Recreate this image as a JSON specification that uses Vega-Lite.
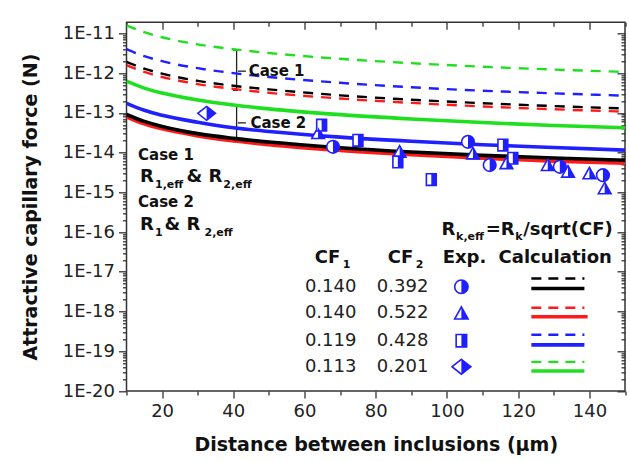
{
  "$schema": "https://vega.github.io/schema/vega-lite/v6.json",
  "width": 498.5,
  "height": 368.7,
  "autosize": {"type": "none"},
  "padding": {"left": 126.5, "top": 22.3, "right": 5, "bottom": 71},
  "background": "white",
  "config": {
    "view": {"stroke": "#333333", "strokeWidth": 1.5},
    "font": "DejaVu Sans",
    "axis": {"domain": false, "grid": false, "tickColor": "#333333", "tickWidth": 1.3, "labelFont": "DejaVu Sans", "labelFontSize": 18, "labelColor": "#222222", "titleFont": "DejaVu Sans", "titleFontSize": 19, "titleFontWeight": "bold", "titleColor": "#111111", "labelOverlap": false, "labelFlush": false}
  },
  "datasets": {
    "curves": [
      {"col": "r", "kind": "dash", "x": 10, "y": 1.6e-12}, {"col": "r", "kind": "dash", "x": 15, "y": 1.07e-12}, {"col": "r", "kind": "dash", "x": 20, "y": 8.0e-13}, {"col": "r", "kind": "dash", "x": 30, "y": 5.3e-13}, {"col": "r", "kind": "dash", "x": 40, "y": 4.0e-13}, {"col": "r", "kind": "dash", "x": 50, "y": 3.2e-13}, {"col": "r", "kind": "dash", "x": 70, "y": 2.29e-13}, {"col": "r", "kind": "dash", "x": 90, "y": 1.78e-13}, {"col": "r", "kind": "dash", "x": 110, "y": 1.45e-13}, {"col": "r", "kind": "dash", "x": 130, "y": 1.23e-13}, {"col": "r", "kind": "dash", "x": 150, "y": 1.07e-13},
      {"col": "k", "kind": "dash", "x": 10, "y": 1.93e-12}, {"col": "k", "kind": "dash", "x": 15, "y": 1.29e-12}, {"col": "k", "kind": "dash", "x": 20, "y": 9.7e-13}, {"col": "k", "kind": "dash", "x": 30, "y": 6.4e-13}, {"col": "k", "kind": "dash", "x": 40, "y": 4.8e-13}, {"col": "k", "kind": "dash", "x": 50, "y": 3.9e-13}, {"col": "k", "kind": "dash", "x": 70, "y": 2.76e-13}, {"col": "k", "kind": "dash", "x": 90, "y": 2.14e-13}, {"col": "k", "kind": "dash", "x": 110, "y": 1.75e-13}, {"col": "k", "kind": "dash", "x": 130, "y": 1.48e-13}, {"col": "k", "kind": "dash", "x": 150, "y": 1.29e-13},
      {"col": "b", "kind": "dash", "x": 10, "y": 4.0e-12}, {"col": "b", "kind": "dash", "x": 15, "y": 2.67e-12}, {"col": "b", "kind": "dash", "x": 20, "y": 2.0e-12}, {"col": "b", "kind": "dash", "x": 30, "y": 1.33e-12}, {"col": "b", "kind": "dash", "x": 40, "y": 1.0e-12}, {"col": "b", "kind": "dash", "x": 50, "y": 8.0e-13}, {"col": "b", "kind": "dash", "x": 70, "y": 5.7e-13}, {"col": "b", "kind": "dash", "x": 90, "y": 4.4e-13}, {"col": "b", "kind": "dash", "x": 110, "y": 3.6e-13}, {"col": "b", "kind": "dash", "x": 130, "y": 3.1e-13}, {"col": "b", "kind": "dash", "x": 150, "y": 2.7e-13},
      {"col": "g", "kind": "dash", "x": 10, "y": 1.6e-11}, {"col": "g", "kind": "dash", "x": 15, "y": 1.07e-11}, {"col": "g", "kind": "dash", "x": 20, "y": 8.0e-12}, {"col": "g", "kind": "dash", "x": 30, "y": 5.3e-12}, {"col": "g", "kind": "dash", "x": 40, "y": 4.0e-12}, {"col": "g", "kind": "dash", "x": 50, "y": 3.2e-12}, {"col": "g", "kind": "dash", "x": 70, "y": 2.29e-12}, {"col": "g", "kind": "dash", "x": 90, "y": 1.78e-12}, {"col": "g", "kind": "dash", "x": 110, "y": 1.45e-12}, {"col": "g", "kind": "dash", "x": 130, "y": 1.23e-12}, {"col": "g", "kind": "dash", "x": 150, "y": 1.07e-12},
      {"col": "r", "kind": "solid", "x": 10, "y": 7.9e-14}, {"col": "r", "kind": "solid", "x": 15, "y": 5.3e-14}, {"col": "r", "kind": "solid", "x": 20, "y": 3.95e-14}, {"col": "r", "kind": "solid", "x": 30, "y": 2.63e-14}, {"col": "r", "kind": "solid", "x": 40, "y": 1.98e-14}, {"col": "r", "kind": "solid", "x": 50, "y": 1.58e-14}, {"col": "r", "kind": "solid", "x": 70, "y": 1.13e-14}, {"col": "r", "kind": "solid", "x": 90, "y": 8.8e-15}, {"col": "r", "kind": "solid", "x": 110, "y": 7.2e-15}, {"col": "r", "kind": "solid", "x": 130, "y": 6.1e-15}, {"col": "r", "kind": "solid", "x": 150, "y": 5.4e-15},
      {"col": "k", "kind": "solid", "x": 10, "y": 9.1e-14}, {"col": "k", "kind": "solid", "x": 15, "y": 6.1e-14}, {"col": "k", "kind": "solid", "x": 20, "y": 4.55e-14}, {"col": "k", "kind": "solid", "x": 30, "y": 3.0e-14}, {"col": "k", "kind": "solid", "x": 40, "y": 2.28e-14}, {"col": "k", "kind": "solid", "x": 50, "y": 1.84e-14}, {"col": "k", "kind": "solid", "x": 70, "y": 1.32e-14}, {"col": "k", "kind": "solid", "x": 90, "y": 1.03e-14}, {"col": "k", "kind": "solid", "x": 110, "y": 8.5e-15}, {"col": "k", "kind": "solid", "x": 130, "y": 7.3e-15}, {"col": "k", "kind": "solid", "x": 150, "y": 6.4e-15},
      {"col": "b", "kind": "solid", "x": 10, "y": 1.74e-13}, {"col": "b", "kind": "solid", "x": 15, "y": 1.16e-13}, {"col": "b", "kind": "solid", "x": 20, "y": 8.7e-14}, {"col": "b", "kind": "solid", "x": 30, "y": 5.8e-14}, {"col": "b", "kind": "solid", "x": 40, "y": 4.2e-14}, {"col": "b", "kind": "solid", "x": 50, "y": 3.4e-14}, {"col": "b", "kind": "solid", "x": 70, "y": 2.45e-14}, {"col": "b", "kind": "solid", "x": 90, "y": 1.92e-14}, {"col": "b", "kind": "solid", "x": 110, "y": 1.58e-14}, {"col": "b", "kind": "solid", "x": 130, "y": 1.34e-14}, {"col": "b", "kind": "solid", "x": 150, "y": 1.15e-14},
      {"col": "g", "kind": "solid", "x": 10, "y": 6.3e-13}, {"col": "g", "kind": "solid", "x": 15, "y": 4.2e-13}, {"col": "g", "kind": "solid", "x": 20, "y": 3.15e-13}, {"col": "g", "kind": "solid", "x": 30, "y": 2.1e-13}, {"col": "g", "kind": "solid", "x": 40, "y": 1.58e-13}, {"col": "g", "kind": "solid", "x": 50, "y": 1.26e-13}, {"col": "g", "kind": "solid", "x": 70, "y": 9.0e-14}, {"col": "g", "kind": "solid", "x": 90, "y": 7.0e-14}, {"col": "g", "kind": "solid", "x": 110, "y": 5.7e-14}, {"col": "g", "kind": "solid", "x": 130, "y": 4.8e-14}, {"col": "g", "kind": "solid", "x": 150, "y": 4.2e-14}
    ],
    "measured": [
      {"mk": "circle", "x": 68.0, "y": 1.40e-14}, {"mk": "circle", "x": 105.9, "y": 1.87e-14}, {"mk": "circle", "x": 112.0, "y": 4.85e-15}, {"mk": "circle", "x": 131.7, "y": 4.4e-15}, {"mk": "circle", "x": 143.8, "y": 2.7e-15},
      {"mk": "triangle", "x": 63.8, "y": 3.1e-14}, {"mk": "triangle", "x": 86.7, "y": 1.05e-14}, {"mk": "triangle", "x": 107.3, "y": 9.5e-15}, {"mk": "triangle", "x": 116.7, "y": 5.4e-15}, {"mk": "triangle", "x": 128.3, "y": 4.85e-15}, {"mk": "triangle", "x": 134.0, "y": 3.3e-15}, {"mk": "triangle", "x": 140.0, "y": 3.0e-15}, {"mk": "triangle", "x": 144.3, "y": 1.26e-15},
      {"mk": "square", "x": 64.8, "y": 4.9e-14}, {"mk": "square", "x": 75.0, "y": 2.04e-14}, {"mk": "square", "x": 86.2, "y": 5.8e-15}, {"mk": "square", "x": 95.6, "y": 2.1e-15}, {"mk": "square", "x": 115.7, "y": 1.55e-14}, {"mk": "square", "x": 118.5, "y": 7.2e-15},
      {"mk": "diamond", "x": 32.5, "y": 9.7e-14}
    ],
    "keyMarks": [
      {"mk": "circle", "x": 104.05, "y": 4.21e-18},
      {"mk": "triangle", "x": 104.05, "y": 9.0e-19},
      {"mk": "square", "x": 104.05, "y": 1.84e-19},
      {"mk": "diamond", "x": 104.05, "y": 4.08e-20}
    ],
    "keyLines": [
      {"col": "k", "kind": "dash", "x": 123.7, "x2": 138.6, "y": 6.8e-18}, {"col": "k", "kind": "solid", "x": 123.7, "x2": 138.6, "y": 3.8e-18},
      {"col": "r", "kind": "dash", "x": 123.7, "x2": 138.6, "y": 1.24e-18}, {"col": "r", "kind": "solid", "x": 123.7, "x2": 139.5, "y": 7.4e-19},
      {"col": "b", "kind": "dash", "x": 123.7, "x2": 138.6, "y": 2.6e-19}, {"col": "b", "kind": "solid", "x": 123.7, "x2": 138.6, "y": 1.45e-19},
      {"col": "g", "kind": "dash", "x": 123.7, "x2": 138.6, "y": 5.4e-20}, {"col": "g", "kind": "solid", "x": 123.7, "x2": 138.6, "y": 3.2e-20}
    ],
    "brackets": [
      {"x": 40.92, "x2": 40.92, "y": 3.8e-12, "y2": 3.7e-13},
      {"x": 39.88, "x2": 41.3, "y": 3.8e-12, "y2": 3.8e-12},
      {"x": 39.88, "x2": 41.3, "y": 3.7e-13, "y2": 3.7e-13},
      {"x": 41.28, "x2": 43.53, "y": 1.12e-12, "y2": 1.12e-12},
      {"x": 40.92, "x2": 40.92, "y": 1.57e-13, "y2": 1.87e-14},
      {"x": 39.88, "x2": 41.3, "y": 1.57e-13, "y2": 1.57e-13},
      {"x": 39.88, "x2": 41.3, "y": 1.87e-14, "y2": 1.87e-14},
      {"x": 41.28, "x2": 43.53, "y": 5.6e-14, "y2": 5.6e-14}
    ],
    "boldText": [
      {"role": "case", "text": "Case 1", "x": 44.3, "y": 1.12e-12},
      {"role": "case", "text": "Case 2", "x": 44.8, "y": 5.6e-14},
      {"role": "case", "text": "Case 1", "x": 13.23, "y": 8.6e-15},
      {"role": "main", "text": "R", "x": 13.79, "y": 2.42e-15},
      {"role": "sub", "text": "1,eff", "x": 18.0, "y": 1.52e-15},
      {"role": "main", "text": "& R", "x": 26.84, "y": 2.42e-15},
      {"role": "sub", "text": "2,eff", "x": 37.2, "y": 1.52e-15},
      {"role": "case", "text": "Case 2", "x": 13.23, "y": 5.78e-16},
      {"role": "main", "text": "R", "x": 13.79, "y": 1.5e-16},
      {"role": "sub", "text": "1", "x": 18.0, "y": 9.4e-17},
      {"role": "main", "text": "& R", "x": 20.66, "y": 1.5e-16},
      {"role": "sub", "text": "2,eff", "x": 31.9, "y": 9.4e-17},
      {"role": "main", "text": "R", "x": 98.44, "y": 1.12e-16},
      {"role": "sub", "text": "k,eff", "x": 102.56, "y": 7.48e-17},
      {"role": "main", "text": "=R", "x": 110.87, "y": 1.12e-16},
      {"role": "sub", "text": "k", "x": 119.15, "y": 7.48e-17},
      {"role": "main", "text": "/sqrt(CF)", "x": 121.39, "y": 1.12e-16},
      {"role": "head", "text": "CF", "x": 62.89, "y": 2.22e-17},
      {"role": "sub", "text": "1", "x": 70.75, "y": 1.48e-17},
      {"role": "head", "text": "CF", "x": 83.37, "y": 2.22e-17},
      {"role": "sub", "text": "2", "x": 91.23, "y": 1.48e-17},
      {"role": "head", "text": "Exp.", "x": 98.8, "y": 2.22e-17},
      {"role": "head", "text": "Calculation", "x": 114.5, "y": 2.22e-17}
    ],
    "plainText": [
      {"text": "0.140", "x": 60.1, "y": 4.21e-18}, {"text": "0.392", "x": 80.3, "y": 4.21e-18},
      {"text": "0.140", "x": 60.1, "y": 9.0e-19}, {"text": "0.522", "x": 80.3, "y": 9.0e-19},
      {"text": "0.119", "x": 60.1, "y": 1.84e-19}, {"text": "0.428", "x": 80.3, "y": 1.84e-19},
      {"text": "0.113", "x": 60.1, "y": 4.08e-20}, {"text": "0.201", "x": 80.3, "y": 4.08e-20}
    ]
  },
  "encoding": {
    "x": {"field": "x", "type": "quantitative", "scale": {"domain": [10, 150], "nice": false, "zero": false}, "axis": null},
    "y": {"field": "y", "type": "quantitative", "scale": {"type": "log", "domain": [1e-20, 1.9e-11], "nice": false}, "axis": null}
  },
  "resolve": {"axis": {"x": "independent", "y": "independent"}, "scale": {"shape": "independent"}},
  "layer": [
    {
      "data": {"name": "brackets"},
      "mark": {"type": "rule", "color": "#222222", "strokeWidth": 1.3},
      "encoding": {
        "x": {"field": "x", "type": "quantitative", "scale": {"domain": [10, 150], "nice": false, "zero": false},
          "axis": {"orient": "top", "title": null, "labels": false, "values": [10, 20, 30, 40, 50, 60, 70, 80, 90, 100, 110, 120, 130, 140, 150],
            "tickSize": {"condition": {"test": "datum.value % 20 == 0", "value": -7}, "value": -4}}},
        "y": {"field": "y", "type": "quantitative", "scale": {"type": "log", "domain": [1e-20, 1.9e-11], "nice": false},
          "axis": {"orient": "right", "title": null, "labels": false,
            "values": [1e-20, 2e-20, 3e-20, 4e-20, 5e-20, 6e-20, 7e-20, 8e-20, 9e-20, 1e-19, 2e-19, 3e-19, 4e-19, 5e-19, 6e-19, 7e-19, 8e-19, 9e-19, 1e-18, 2e-18, 3e-18, 4e-18, 5e-18, 6e-18, 7e-18, 8e-18, 9e-18, 1e-17, 2e-17, 3e-17, 4e-17, 5e-17, 6e-17, 7e-17, 8e-17, 9e-17, 1e-16, 2e-16, 3e-16, 4e-16, 5e-16, 6e-16, 7e-16, 8e-16, 9e-16, 1e-15, 2e-15, 3e-15, 4e-15, 5e-15, 6e-15, 7e-15, 8e-15, 9e-15, 1e-14, 2e-14, 3e-14, 4e-14, 5e-14, 6e-14, 7e-14, 8e-14, 9e-14, 1e-13, 2e-13, 3e-13, 4e-13, 5e-13, 6e-13, 7e-13, 8e-13, 9e-13, 1e-12, 2e-12, 3e-12, 4e-12, 5e-12, 6e-12, 7e-12, 8e-12, 9e-12, 1e-11],
            "tickSize": {"condition": {"test": "abs(log(datum.value)/LN10 - round(log(datum.value)/LN10)) < 0.001", "value": -8}, "value": -4}}},
        "x2": {"field": "x2"},
        "y2": {"field": "y2"}
      }
    },
    {
      "data": {"name": "curves"},
      "transform": [{"filter": "datum.kind == 'dash'"}],
      "mark": {"type": "line", "strokeWidth": 2.4, "strokeDash": [10, 8], "interpolate": "monotone", "clip": true},
      "encoding": {
        "color": {"field": "col", "type": "nominal", "scale": {"domain": ["k", "r", "b", "g"], "range": ["#000000", "#ff1a1a", "#1f1fff", "#1ee01e"]}, "legend": null},
        "order": {"field": "x", "type": "quantitative"}
      }
    },
    {
      "data": {"name": "curves"},
      "transform": [{"filter": "datum.kind == 'solid'"}],
      "mark": {"type": "line", "strokeWidth": 3.6, "interpolate": "monotone", "clip": true},
      "encoding": {
        "x": {"field": "x", "type": "quantitative", "scale": {"domain": [10, 150], "nice": false, "zero": false},
          "axis": {"orient": "bottom", "title": "Distance between inclusions (\u03bcm)", "titlePadding": 15, "labelPadding": 4,
            "values": [10, 20, 30, 40, 50, 60, 70, 80, 90, 100, 110, 120, 130, 140, 150],
            "labelExpr": "datum.value % 20 == 0 && datum.value < 150 ? datum.label : ''",
            "tickSize": {"condition": {"test": "datum.value % 20 == 0", "value": 7}, "value": 4}}},
        "y": {"field": "y", "type": "quantitative", "scale": {"type": "log", "domain": [1e-20, 1.9e-11], "nice": false},
          "axis": {"orient": "left", "title": "Attractive capillary force (N)", "titlePadding": 22, "labelPadding": 4,
            "values": [1e-20, 2e-20, 3e-20, 4e-20, 5e-20, 6e-20, 7e-20, 8e-20, 9e-20, 1e-19, 2e-19, 3e-19, 4e-19, 5e-19, 6e-19, 7e-19, 8e-19, 9e-19, 1e-18, 2e-18, 3e-18, 4e-18, 5e-18, 6e-18, 7e-18, 8e-18, 9e-18, 1e-17, 2e-17, 3e-17, 4e-17, 5e-17, 6e-17, 7e-17, 8e-17, 9e-17, 1e-16, 2e-16, 3e-16, 4e-16, 5e-16, 6e-16, 7e-16, 8e-16, 9e-16, 1e-15, 2e-15, 3e-15, 4e-15, 5e-15, 6e-15, 7e-15, 8e-15, 9e-15, 1e-14, 2e-14, 3e-14, 4e-14, 5e-14, 6e-14, 7e-14, 8e-14, 9e-14, 1e-13, 2e-13, 3e-13, 4e-13, 5e-13, 6e-13, 7e-13, 8e-13, 9e-13, 1e-12, 2e-12, 3e-12, 4e-12, 5e-12, 6e-12, 7e-12, 8e-12, 9e-12, 1e-11],
            "labelExpr": "abs(log(datum.value)/LN10 - round(log(datum.value)/LN10)) < 0.001 ? '1E' + round(log(datum.value)/LN10) : ''",
            "tickSize": {"condition": {"test": "abs(log(datum.value)/LN10 - round(log(datum.value)/LN10)) < 0.001", "value": 8}, "value": 4}}},
        "color": {"field": "col", "type": "nominal", "scale": {"domain": ["k", "r", "b", "g"], "range": ["#000000", "#ff1a1a", "#1f1fff", "#1ee01e"]}, "legend": null},
        "order": {"field": "x", "type": "quantitative"}
      }
    },
    {
      "data": {"name": "measured"},
      "mark": {"type": "point", "filled": true, "fill": "white", "stroke": "#1f1fff", "strokeWidth": 1.6, "size": 160, "opacity": 1},
      "encoding": {
        "shape": {"field": "mk", "type": "nominal", "legend": null, "scale": {"domain": ["circle", "triangle", "square", "diamond"], "range": ["M-1,0A1,1 0 1,1 1,0A1,1 0 1,1 -1,0Z", "M0,-0.95L1,0.85L-1,0.85Z", "M-0.78,-0.92L0.78,-0.92L0.78,0.92L-0.78,0.92Z", "M0,-1.1L1.4,0L0,1.1L-1.4,0Z"]}}
      }
    },
    {
      "data": {"name": "measured"},
      "mark": {"type": "point", "filled": true, "fill": "#1f1fff", "strokeWidth": 0, "size": 160, "opacity": 1},
      "encoding": {
        "shape": {"field": "mk", "type": "nominal", "legend": null, "scale": {"domain": ["circle", "triangle", "square", "diamond"], "range": ["M0,-1A1,1 0 0,1 0,1Z", "M0,-0.95L1,0.85L0,0.85Z", "M0,-0.92L0.78,-0.92L0.78,0.92L0,0.92Z", "M0,-1.1L1.4,0L0,1.1Z"]}}
      }
    },
    {
      "data": {"name": "keyMarks"},
      "mark": {"type": "point", "filled": true, "fill": "white", "stroke": "#1f1fff", "strokeWidth": 1.6, "size": 180, "opacity": 1},
      "encoding": {
        "shape": {"field": "mk", "type": "nominal", "legend": null, "scale": {"domain": ["circle", "triangle", "square", "diamond"], "range": ["M-1,0A1,1 0 1,1 1,0A1,1 0 1,1 -1,0Z", "M0,-0.95L1,0.85L-1,0.85Z", "M-0.78,-0.92L0.78,-0.92L0.78,0.92L-0.78,0.92Z", "M0,-1.1L1.4,0L0,1.1L-1.4,0Z"]}}
      }
    },
    {
      "data": {"name": "keyMarks"},
      "mark": {"type": "point", "filled": true, "fill": "#1f1fff", "strokeWidth": 0, "size": 180, "opacity": 1},
      "encoding": {
        "shape": {"field": "mk", "type": "nominal", "legend": null, "scale": {"domain": ["circle", "triangle", "square", "diamond"], "range": ["M0,-1A1,1 0 0,1 0,1Z", "M0,-0.95L1,0.85L0,0.85Z", "M0,-0.92L0.78,-0.92L0.78,0.92L0,0.92Z", "M0,-1.1L1.4,0L0,1.1Z"]}}
      }
    },
    {
      "data": {"name": "keyLines"},
      "mark": {"type": "rule"},
      "encoding": {
        "x2": {"field": "x2"},
        "color": {"field": "col", "type": "nominal", "scale": {"domain": ["k", "r", "b", "g"], "range": ["#000000", "#ff1a1a", "#1f1fff", "#1ee01e"]}, "legend": null},
        "strokeDash": {"field": "kind", "type": "nominal", "scale": {"domain": ["dash", "solid"], "range": [[10, 7], [1, 0]]}, "legend": null},
        "strokeWidth": {"field": "kind", "type": "nominal", "scale": {"domain": ["dash", "solid"], "range": [2.4, 3.6]}, "legend": null}
      }
    },
    {
      "data": {"name": "boldText"},
      "transform": [{"filter": "datum.role == 'main'"}],
      "mark": {"type": "text", "font": "DejaVu Sans", "fontWeight": "bold", "fontSize": 18, "align": "left", "baseline": "middle", "color": "#111111"},
      "encoding": {"text": {"field": "text", "type": "nominal"}}
    },
    {
      "data": {"name": "boldText"},
      "transform": [{"filter": "datum.role == 'sub'"}],
      "mark": {"type": "text", "font": "DejaVu Sans", "fontWeight": "bold", "fontSize": 11, "align": "left", "baseline": "middle", "color": "#111111"},
      "encoding": {"text": {"field": "text", "type": "nominal"}}
    },
    {
      "data": {"name": "boldText"},
      "transform": [{"filter": "datum.role == 'case'"}],
      "mark": {"type": "text", "font": "DejaVu Sans", "fontWeight": "bold", "fontSize": 15, "align": "left", "baseline": "middle", "color": "#111111"},
      "encoding": {"text": {"field": "text", "type": "nominal"}}
    },
    {
      "data": {"name": "boldText"},
      "transform": [{"filter": "datum.role == 'head'"}],
      "mark": {"type": "text", "font": "DejaVu Sans", "fontWeight": "bold", "fontSize": 18, "align": "left", "baseline": "middle", "color": "#111111"},
      "encoding": {"text": {"field": "text", "type": "nominal"}}
    },
    {
      "data": {"name": "plainText"},
      "mark": {"type": "text", "font": "DejaVu Sans", "fontSize": 18, "align": "left", "baseline": "middle", "color": "#222222"},
      "encoding": {"text": {"field": "text", "type": "nominal"}}
    }
  ]
}
